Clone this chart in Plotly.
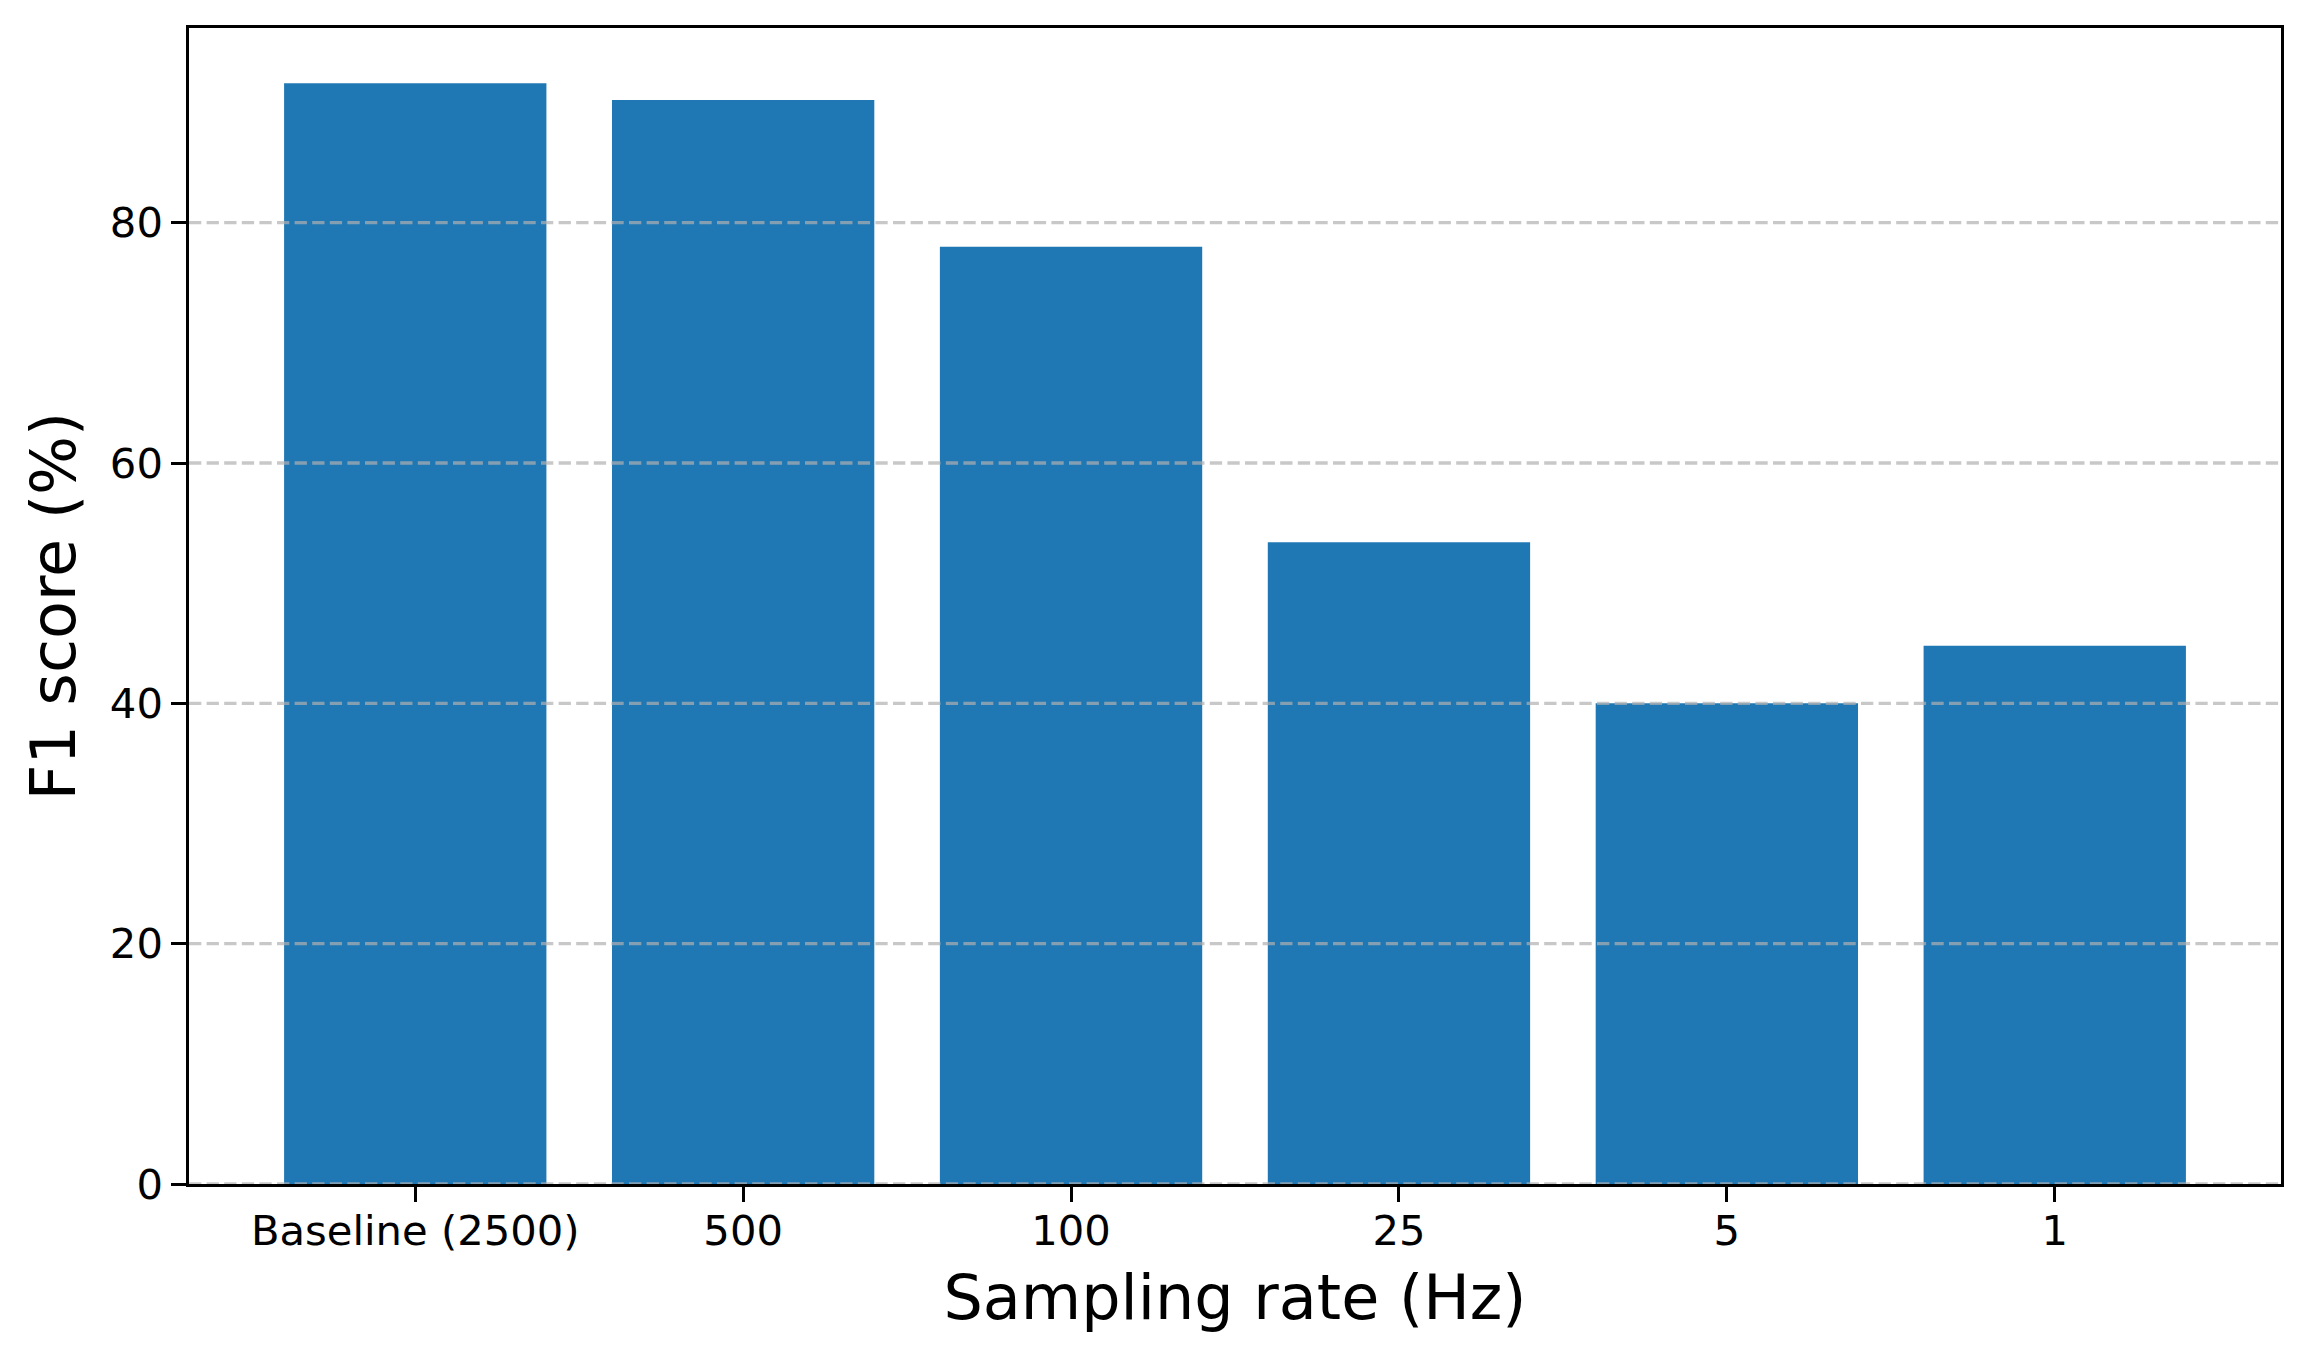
import plotly.graph_objects as go

categories = ["Baseline (2500)", "500", "100", "25", "5", "1"]
f1_scores = [91.6, 90.2, 78.0, 53.4, 40.0, 44.8]
y_ticks = [0, 20, 40, 60, 80]

# the page body has an 8px margin, so the figure is offset by 8px
W, H = 2303, 1352
FONT = "DejaVu Sans"

fig = go.Figure()
fig.add_trace(go.Bar(
    x=list(range(len(categories))),
    y=f1_scores,
    width=0.8,
    marker=dict(color="#1f77b4", line=dict(width=0)),
    hoverinfo="skip",
))

# gridlines drawn above bars (matplotlib style: grid above patches)
shapes = []
for t in y_ticks:
    shapes.append(dict(
        type="line", xref="paper", x0=0, x1=1, yref="y", y0=t, y1=t,
        line=dict(color="rgba(176,176,176,0.7)", width=3.3, dash="12.3px,5.3px"),
        layer="above",
    ))

fig.update_layout(
    width=W, height=H,
    margin=dict(l=181, r=30, t=20, b=176),
    paper_bgcolor="white", plot_bgcolor="white",
    showlegend=False,
    shapes=shapes,
    font=dict(family=FONT, color="black"),
)

fig.update_xaxes(
    tickmode="array",
    tickvals=list(range(len(categories))),
    ticktext=categories,
    range=[-0.69, 5.69],
    showgrid=False, zeroline=False,
    showline=True, mirror=True, linecolor="black", linewidth=3.3,
    ticks="outside", ticklen=14.6, tickwidth=3.3, tickcolor="black",
    ticklabelstandoff=-7,
    tickfont=dict(family=FONT, size=41.7, color="black"),
    title=dict(text="Sampling rate (Hz)", font=dict(family=FONT, size=62, color="black"), standoff=22),
)
fig.update_yaxes(
    tickmode="array",
    tickvals=y_ticks,
    ticktext=[str(v) for v in y_ticks],
    range=[0, 96.2],
    showgrid=False, zeroline=False,
    showline=True, mirror=True, linecolor="black", linewidth=3.3,
    ticks="outside", ticklen=14.6, tickwidth=3.3, tickcolor="black",
    tickfont=dict(family=FONT, size=41.7, color="black"),
    title=dict(text="F1 score (%)", font=dict(family=FONT, size=62, color="black"), standoff=15),
)

fig.write_html("out.html")
